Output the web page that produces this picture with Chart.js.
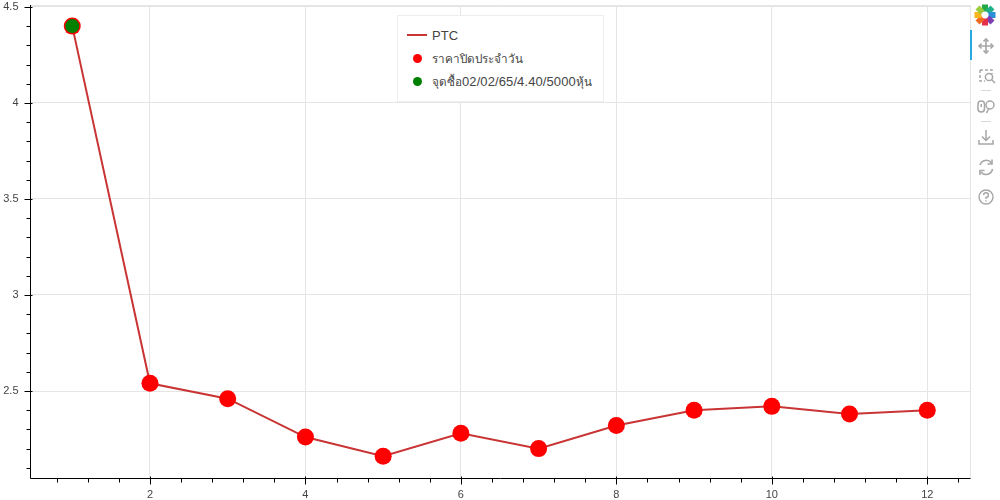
<!DOCTYPE html>
<html>
<head>
<meta charset="utf-8">
<style>
html,body{margin:0;padding:0;background:#fff;width:1000px;height:500px;overflow:hidden}
#wrap{position:relative;width:1000px;height:500px;font-family:Helvetica,Arial,"Liberation Sans",sans-serif}
canvas{position:absolute;left:0;top:0}
#legend{position:absolute;left:397px;top:15px;width:205px;height:85px;background:#fff;border:1px solid #eeeeee;color:#444}
.li{position:absolute;left:34px;white-space:nowrap}
.sw{position:absolute}
#tools{position:absolute;left:971px;top:0;width:29px;height:215px}
#tools svg{position:absolute;left:0;top:0}
</style>
<script src="https://cdn.jsdelivr.net/npm/chart.js@4/dist/chart.umd.js"></script>
</head>
<body>
<div id="wrap">
<canvas id="c" width="1000" height="500"></canvas>
<div id="legend"></div>
<div id="tools">
<svg width="29" height="215" viewBox="0 0 29 215" fill="none">
  <!-- logo -->
  <g stroke-width="6" fill="none" stroke-linecap="butt" transform="translate(14 15)">
    <path d="M-3 -7L3 -7" stroke="#22a846" stroke-width="7"/>
    <path d="M3 -7L7 -3" stroke="#20b08a" stroke-width="7"/>
    <path d="M7 -3L7 3" stroke="#2a8fd8" stroke-width="7"/>
    <path d="M7 3L3 7" stroke="#7a3fb0" stroke-width="7"/>
    <path d="M3 7L-3 7" stroke="#e6304a" stroke-width="7"/>
    <path d="M-3 7L-7 3" stroke="#f26a21" stroke-width="7"/>
    <path d="M-7 3L-7 -3" stroke="#f7b51a" stroke-width="7"/>
    <path d="M-7 -3L-3 -7" stroke="#9ccc3c" stroke-width="7"/>
  </g>
  <!-- pan -->
  <g stroke="#a6a6a6" stroke-width="1.6">
    <path d="M15 39V53M8 46H22"/>
    <path d="M12.5 41.5L15 39L17.5 41.5M12.5 50.5L15 53L17.5 50.5M10.5 43.5L8 46L10.5 48.5M19.5 43.5L22 46L19.5 48.5"/>
  </g>
  <!-- box zoom -->
  <g stroke="#a6a6a6" stroke-width="1.5">
    <path d="M9 70h12v4M9 70v11h5" stroke-dasharray="3 2"/>
    <circle cx="18" cy="77" r="3.6"/><path d="M20.7 79.7L24 83"/>
  </g>
  <path d="M10 90.5H20" stroke="#d8d8d8"/>
  <!-- wheel zoom -->
  <g stroke="#a6a6a6" stroke-width="1.5">
    <rect x="7" y="101" width="6.5" height="11" rx="3.2"/><path d="M10.2 104v3"/>
    <circle cx="19" cy="105" r="4"/><path d="M17.5 109L15.5 113"/>
  </g>
  <path d="M10 121.5H20" stroke="#d8d8d8"/>
  <!-- save -->
  <g stroke="#a6a6a6" stroke-width="1.5">
    <path d="M15 130V140M11 136.5L15 140.5L19 136.5"/>
    <path d="M8 140V144H22V140"/>
  </g>
  <!-- reset -->
  <g stroke="#a6a6a6" stroke-width="1.6">
    <path d="M9 165A6.5 6.5 0 0 1 20.5 163M21.5 169A6.5 6.5 0 0 1 10 172"/>
    <path d="M21 159.5V164H16.5M9 175V170.5H13.5"/>
  </g>
  <!-- help -->
  <g stroke="#a6a6a6" stroke-width="1.4">
    <circle cx="15" cy="197" r="7"/>
    <path d="M12.6 195A2.4 2.4 0 1 1 15 197.5V199"/><path d="M15 200.2v1.3"/>
  </g>
</svg>
</div>
<div style="position:absolute;left:970px;top:30px;width:2px;height:30px;background:#26aae1"></div>
</div>
<script>
const xValues = [1,2,3,4,5,6,7,8,9,10,11,12];
const closeValues = [4.40,2.54,2.46,2.26,2.16,2.28,2.20,2.32,2.40,2.42,2.38,2.40];
const buyX = [1];
const buyY = [4.40];
const seriesNames = ['PTC','ราคาปิดประจำวัน','จุดซื้อ02/02/65/4.40/5000หุ้น'];
const xMajorTicks = [2,4,6,8,10,12];
const xMinorTicks = [0.8,1.2,1.6,2.4,2.8,3.2,3.6,4.4,4.8,5.2,5.6,6.4,6.8,7.2,7.6,8.4,8.8,9.2,9.6,10.4,10.8,11.2,11.6,12.4];
const yMajorTicks = [2.5,3,3.5,4,4.5];
const yMinorTicks = [2.1,2.2,2.3,2.4,2.6,2.7,2.8,2.9,3.1,3.2,3.3,3.4,3.6,3.7,3.8,3.9,4.1,4.2,4.3,4.4];
const lineColor = '#c93434', closeColor = '#ff0000', buyColor = '#008000';
const gridColor = '#e5e5e5', textColor = '#444444';

const pts = (xs, ys) => xs.map((x,i)=>({x, y:ys[i]}));

const tickMarks = {
  id:'tickMarks',
  beforeDatasetsDraw(chart){
    const {ctx, chartArea:a} = chart;
    ctx.save();
    ctx.strokeStyle = gridColor; ctx.lineWidth = 1;
    ctx.beginPath();
    ctx.moveTo(a.left, Math.round(a.top)+.5); ctx.lineTo(a.right, Math.round(a.top)+.5);
    ctx.moveTo(a.right+.5, a.top); ctx.lineTo(a.right+.5, a.bottom);
    ctx.stroke();
    ctx.restore();
  },
  afterDraw(chart){
    const {ctx, chartArea:a, scales:{x,y}} = chart;
    ctx.save();
    ctx.strokeStyle = '#000'; ctx.lineWidth = 1;
    ctx.beginPath();
    const bx = Math.round(a.left)+.5, by = Math.round(a.bottom)+.5;
    ctx.moveTo(bx, a.top); ctx.lineTo(bx, by);
    ctx.moveTo(bx, by); ctx.lineTo(a.right+.5, by);
    xMajorTicks.forEach(v=>{const p=Math.round(x.getPixelForValue(v))+.5; ctx.moveTo(p,by-2); ctx.lineTo(p,by+6);});
    xMinorTicks.forEach(v=>{const p=Math.round(x.getPixelForValue(v))+.5; ctx.moveTo(p,by); ctx.lineTo(p,by+4);});
    yMajorTicks.forEach(v=>{const p=Math.round(y.getPixelForValue(v))+.5; ctx.moveTo(bx-6,p); ctx.lineTo(bx+2,p);});
    yMinorTicks.forEach(v=>{const p=Math.round(y.getPixelForValue(v))+.5; ctx.moveTo(bx-4,p); ctx.lineTo(bx,p);});
    ctx.stroke();
    ctx.restore();
  }
};

const axisFont = {family:'Helvetica, Arial, "Liberation Sans", sans-serif', size:11};

const chart = new Chart(document.getElementById('c').getContext('2d'),{
  type:'line',
  data:{datasets:[
    {label:seriesNames[0], data:pts(xValues,closeValues), borderColor:lineColor, borderWidth:2, pointRadius:0, order:3, tension:0, fill:false},
    {label:seriesNames[1], data:pts(xValues,closeValues), showLine:false, pointRadius:8.5, pointBackgroundColor:closeColor, pointBorderColor:closeColor, pointBorderWidth:0, order:2},
    {label:seriesNames[2], data:pts(buyX,buyY), showLine:false, pointRadius:7, pointBackgroundColor:buyColor, pointBorderColor:buyColor, pointBorderWidth:0, order:1}
  ]},
  options:{
    responsive:false, animation:false, events:[],
    layout:{autoPadding:false,padding:{left:0,right:30,top:5,bottom:0}},
    plugins:{legend:{display:false},tooltip:{enabled:false}},
    scales:{
      x:{type:'linear',min:0.45,max:12.55,
        afterBuildTicks(s){s.ticks=xMajorTicks.map(v=>({value:v}));},
        afterFit(s){s.height=22;s.paddingLeft=0;s.paddingRight=0;},
        grid:{color:gridColor,drawTicks:false},
        border:{display:false},
        ticks:{padding:10,color:textColor,font:axisFont,maxRotation:0,autoSkip:false,callback:v=>String(v)}},
      y:{type:'linear',min:2.047,max:4.51,
        afterBuildTicks(s){s.ticks=yMajorTicks.map(v=>({value:v}));},
        afterFit(s){s.width=29.5;s.paddingTop=0;s.paddingBottom=0;},
        grid:{color:gridColor,drawTicks:false},
        border:{display:false},
        ticks:{padding:11,color:textColor,font:axisFont,autoSkip:false,callback:v=>String(v)}}
    }
  },
  plugins:[tickMarks]
});

// legend built from the same names and colours; Thai runs are set a little smaller than Latin runs
const lg = document.getElementById('legend');
const rows = [
  {top:20, h:'l', c:lineColor},
  {top:43, h:'d', c:closeColor},
  {top:66, h:'d', c:buyColor}
];
rows.forEach((r,i)=>{
  const t=document.createElement('div'); t.className='li';
  seriesNames[i].split(/([\u0E00-\u0E7F]+)/).filter(Boolean).forEach(part=>{
    const sp=document.createElement('span');
    sp.textContent=part;
    const thai=/[\u0E00-\u0E7F]/.test(part);
    sp.style.fontSize=thai?'11.7px':'13px';
    if(!thai) sp.style.letterSpacing='0.1px';
    t.appendChild(sp);
  });
  t.style.top=(r.top-11)+'px'; t.style.height='20px'; t.style.lineHeight='20px';
  lg.appendChild(t);
  const s=document.createElement('div'); s.className='sw';
  if(r.h==='l'){ s.style.cssText=`left:9px;top:${r.top-2}px;width:20px;height:2px;background:${r.c}`; }
  else { s.style.cssText=`left:14.5px;top:${r.top-5}px;width:9px;height:9px;border-radius:50%;background:${r.c}`; }
  lg.appendChild(s);
});
</script>
</body>
</html>
